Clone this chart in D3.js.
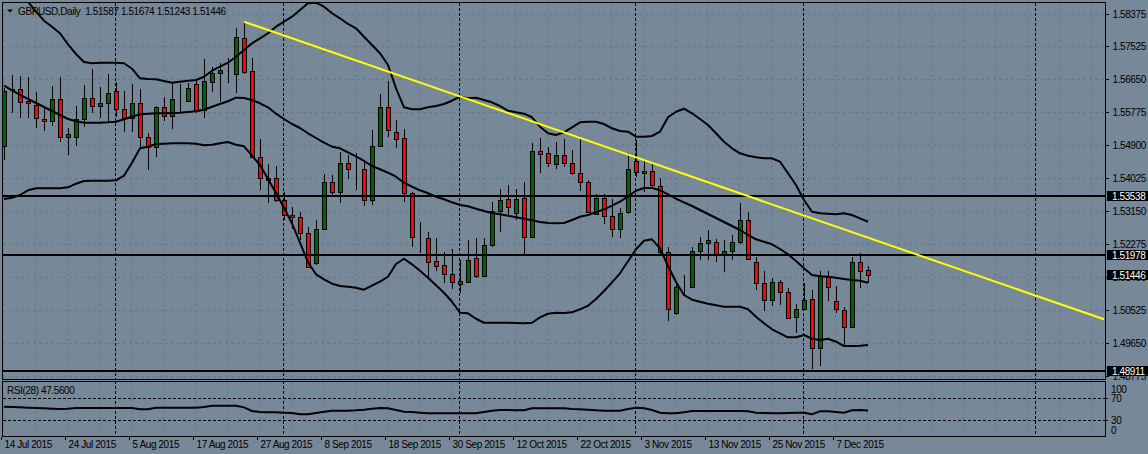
<!DOCTYPE html>
<html><head><meta charset="utf-8">
<script src="https://cdn.jsdelivr.net/npm/d3@7"></script>
<style>
html,body{margin:0;padding:0;background:#778899;}
svg{display:block;}
text{font-family:"Liberation Sans",Arial,sans-serif;font-size:10px;letter-spacing:-0.4px;fill:#000;}
</style></head><body>
<svg id="c" width="1148" height="454"></svg>
<script>
// ---------- data (GBPUSD Daily, bars from 14 Jul 2015 to 11 Dec 2015) ----------
const openP=[1.54864,1.56361,1.56367,1.56064,1.55943,1.55580,1.55519,1.56110,1.55095,1.55110,
1.55572,1.56128,1.55932,1.55996,1.56322,1.55837,1.55598,1.55996,1.55110,1.54830,
1.55905,1.55667,1.56083,1.56064,1.56499,1.55818,1.56568,1.56791,1.56878,1.56772,
1.57718,1.56852,1.54580,1.54008,1.54029,1.53420,1.53028,1.52975,1.52551,1.51756,
1.52678,1.53918,1.53653,1.54406,1.54255,1.54247,1.53433,1.54872,1.55890,1.55243,
1.55068,1.53611,1.52445,1.52418,1.51809,1.51703,1.51464,1.51199,1.51268,1.51888,
1.51427,1.52233,1.53149,1.53452,1.53081,1.53478,1.52445,1.54739,1.54671,1.54387,
1.54618,1.54421,1.54141,1.53918,1.53062,1.53478,1.53017,1.52657,1.53107,1.54474,
1.54141,1.54194,1.53817,1.52063,1.50446,1.51135,1.51135,1.52089,1.52286,1.52312,
1.52002,1.52089,1.52328,1.52903,1.51798,1.51226,1.50783,1.51268,1.50987,1.50325,
1.50537,1.50802,1.49503,1.51419,1.50764,1.50518,1.50060,1.51782,1.51587];
const highP=[1.56401,1.56746,1.56719,1.56700,1.56303,1.55905,1.56454,1.56685,1.55333,1.55924,
1.56481,1.56905,1.56420,1.56772,1.56568,1.56329,1.56499,1.56367,1.55208,1.55924,
1.56155,1.56526,1.56499,1.56526,1.56613,1.57162,1.56965,1.57056,1.57188,1.57983,
1.58158,1.57188,1.55050,1.54387,1.54334,1.53632,1.53255,1.53123,1.52725,1.52903,
1.54122,1.54096,1.54713,1.54626,1.54686,1.54493,1.55288,1.56242,1.56594,1.55553,
1.55307,1.53653,1.52858,1.52593,1.52418,1.52047,1.52127,1.51843,1.52373,1.52418,
1.52434,1.53388,1.53717,1.53831,1.53717,1.53918,1.54936,1.55068,1.54845,1.54962,
1.55042,1.54758,1.55095,1.53963,1.53592,1.53584,1.53452,1.53213,1.54671,1.55015,
1.54493,1.54440,1.54008,1.52180,1.51268,1.51438,1.52195,1.52445,1.52638,1.52392,
1.52373,1.52506,1.53346,1.53123,1.51930,1.51559,1.51358,1.51313,1.51093,1.50677,
1.51226,1.51048,1.51559,1.51559,1.51154,1.50605,1.51930,1.52021,1.51674];
const lowP=[1.54493,1.55739,1.55598,1.55598,1.55333,1.55269,1.55394,1.54978,1.54626,1.54872,
1.55375,1.55731,1.55598,1.55508,1.55640,1.55243,1.55243,1.54845,1.54228,1.54580,
1.55534,1.55315,1.55731,1.56057,1.55731,1.55598,1.56303,1.56038,1.56526,1.56276,
1.56772,1.54538,1.53698,1.53346,1.53388,1.52903,1.52678,1.52373,1.51623,1.51711,
1.52638,1.53513,1.53361,1.53990,1.53698,1.53274,1.53301,1.54845,1.55110,1.54803,
1.53388,1.52195,1.52021,1.51358,1.51559,1.51226,1.51067,1.50976,1.51241,1.51358,
1.51400,1.52195,1.52593,1.53017,1.52903,1.52002,1.52418,1.54141,1.54315,1.54247,
1.54315,1.54096,1.53679,1.53089,1.53036,1.52797,1.52460,1.52418,1.53062,1.54043,
1.53645,1.53778,1.52002,1.50234,1.50386,1.50889,1.51120,1.51843,1.51843,1.51798,
1.51533,1.51843,1.52259,1.51843,1.51048,1.50499,1.50624,1.50651,1.50272,1.49916,
1.50518,1.48947,1.49034,1.50764,1.50431,1.49591,1.50033,1.51093,1.51243];
const closeP=[1.56329,1.56375,1.56038,1.55996,1.55598,1.55519,1.56110,1.55095,1.55174,1.55572,
1.56128,1.55932,1.55996,1.56261,1.55837,1.55598,1.55996,1.55110,1.54830,1.55890,
1.55667,1.56102,1.56083,1.56393,1.55799,1.56587,1.56791,1.56878,1.56878,1.57745,
1.56833,1.54580,1.54008,1.53950,1.53433,1.53028,1.52975,1.52551,1.51671,1.52678,
1.53918,1.53653,1.54406,1.54247,1.54255,1.53433,1.54872,1.55890,1.55288,1.55042,
1.53611,1.52445,1.52445,1.51790,1.51692,1.51464,1.51252,1.51287,1.51843,1.51427,
1.52233,1.53149,1.53433,1.53255,1.53452,1.52445,1.54739,1.54652,1.54406,1.54626,
1.54406,1.54141,1.53918,1.53123,1.53478,1.53017,1.52657,1.53096,1.54247,1.54167,
1.54194,1.53823,1.52063,1.50537,1.51120,1.51135,1.52089,1.52286,1.52373,1.52002,
1.52089,1.52328,1.52903,1.51862,1.51226,1.50783,1.51268,1.50987,1.50298,1.50537,
1.50783,1.49503,1.51419,1.51120,1.50537,1.50060,1.51782,1.51559,1.51446];
// Bollinger bands
const bandUpper=[1.59316,1.59104,1.58892,1.58688,1.58423,1.58184,1.58025,1.57851,1.57559,1.57302,
1.57090,1.57056,1.57071,1.57071,1.57071,1.57056,1.56912,1.56658,1.56640,1.56632,
1.56587,1.56541,1.56568,1.56594,1.56613,1.56700,1.56859,1.56965,1.57071,1.57230,
1.57408,1.57586,1.57718,1.57851,1.58025,1.58158,1.58290,1.58468,1.58646,1.58661,
1.58555,1.58381,1.58248,1.58097,1.57983,1.57760,1.57541,1.57321,1.57011,1.56393,
1.55890,1.55837,1.55837,1.55890,1.55924,1.55977,1.56064,1.56170,1.56128,1.56144,
1.56083,1.56022,1.55924,1.55799,1.55757,1.55720,1.55625,1.55375,1.55201,1.55156,
1.55227,1.55360,1.55492,1.55508,1.55508,1.55447,1.55333,1.55262,1.55243,1.55110,
1.55110,1.55129,1.55243,1.55625,1.55773,1.55852,1.55731,1.55580,1.55421,1.55201,
1.54978,1.54803,1.54671,1.54607,1.54565,1.54538,1.54538,1.54448,1.54141,1.53831,
1.53433,1.53123,1.53081,1.53070,1.53054,1.53081,1.53036,1.52948,1.52858];
const bandMiddle=[1.56462,1.56340,1.56216,1.56110,1.56004,1.55898,1.55792,1.55686,1.55580,1.55519,
1.55481,1.55481,1.55481,1.55492,1.55508,1.55572,1.55640,1.55704,1.55720,1.55731,
1.55731,1.55739,1.55746,1.55765,1.55784,1.55826,1.55905,1.55977,1.56049,1.56144,
1.56136,1.56083,1.55996,1.55890,1.55720,1.55580,1.55447,1.55341,1.55201,1.55076,
1.54951,1.54845,1.54803,1.54697,1.54591,1.54467,1.54334,1.54247,1.54156,1.54050,
1.53891,1.53785,1.53690,1.53611,1.53520,1.53452,1.53372,1.53301,1.53266,1.53202,
1.53142,1.53089,1.53054,1.53017,1.52975,1.52937,1.52895,1.52850,1.52824,1.52816,
1.52824,1.52903,1.52990,1.53036,1.53107,1.53187,1.53282,1.53388,1.53531,1.53679,
1.53751,1.53751,1.53690,1.53584,1.53467,1.53372,1.53274,1.53168,1.53062,1.52956,
1.52850,1.52744,1.52638,1.52506,1.52392,1.52328,1.52259,1.52135,1.51994,1.51817,
1.51623,1.51446,1.51411,1.51400,1.51374,1.51340,1.51313,1.51294,1.51241];
const bandLower=[1.53460,1.53494,1.53566,1.53690,1.53743,1.53743,1.53743,1.53743,1.53770,1.53865,
1.53937,1.53944,1.53944,1.53944,1.53955,1.54077,1.54421,1.54803,1.54845,1.54917,
1.54925,1.54936,1.54936,1.54936,1.54925,1.54883,1.54899,1.54936,1.54970,1.54899,
1.54856,1.54607,1.54361,1.53990,1.53619,1.53229,1.52816,1.52301,1.51782,1.51464,
1.51332,1.51215,1.51154,1.51135,1.51109,1.51056,1.51162,1.51268,1.51400,1.51737,
1.51877,1.51729,1.51559,1.51374,1.51173,1.50976,1.50738,1.50446,1.50431,1.50287,
1.50181,1.50181,1.50181,1.50181,1.50174,1.50166,1.50181,1.50325,1.50420,1.50446,
1.50439,1.50457,1.50537,1.50632,1.50810,1.51022,1.51252,1.51491,1.51809,1.52127,
1.52354,1.52392,1.52153,1.51684,1.51260,1.50916,1.50791,1.50738,1.50685,1.50643,
1.50605,1.50605,1.50605,1.50537,1.50340,1.50166,1.50007,1.49901,1.49795,1.49795,
1.49856,1.49757,1.49723,1.49757,1.49678,1.49564,1.49564,1.49572,1.49591];
// RSI(28)
const rsiValues=[54.6,54.0,53.4,52.8,52.2,51.6,50.9,50.3,50.9,52.2,
52.2,52.2,52.2,52.2,52.2,52.2,52.2,49.7,49.7,52.8,
52.8,52.8,52.8,52.8,52.8,54.0,56.5,56.5,56.5,56.5,
53.4,46.6,44.8,44.2,44.2,43.6,42.9,40.5,40.5,42.9,
45.4,47.2,47.2,47.2,47.9,49.1,50.9,52.2,51.6,48.5,
45.4,44.8,43.6,42.3,42.3,42.3,42.3,42.3,42.3,42.3,
44.8,47.2,48.5,48.5,47.9,47.9,51.6,51.6,51.6,51.6,
51.6,50.3,49.7,49.1,47.9,47.2,47.2,47.2,50.3,52.8,
51.6,48.5,43.6,42.3,42.3,44.2,46.6,46.6,46.6,46.6,
46.6,46.6,46.6,46.0,43.6,42.9,42.3,42.3,42.9,43.6,
43.6,40.5,46.0,46.0,44.8,43.6,47.9,48.5,47.56];
const rsiLevels=[70,30];
const rsiAxisLabels=[100,70,30,0];
// axis labels
const priceTicks=[1.58375,1.57525,1.56650,1.55775,1.54900,1.54025,1.53150,1.52275,1.51400,1.50525,1.49650,1.48775];
const dateLabels=["14 Jul 2015","24 Jul 2015","5 Aug 2015","17 Aug 2015","27 Aug 2015","8 Sep 2015","18 Sep 2015","30 Sep 2015","12 Oct 2015","22 Oct 2015","3 Nov 2015","13 Nov 2015","25 Nov 2015","7 Dec 2015"];
const dateBars=[0,8,16,24,32,40,48,56,64,72,80,88,96,104];
const monthStartBars=[14,35,57,79,100,129];
const hLevels=[1.53538,1.51978,1.48911];
const currentPrice=1.51446;
const trendPoints=[{bar:30,price:1.58158},{bar:137.5,price:1.50272}];
const titleText="GBPUSD,Daily  1.51587 1.51674 1.51243 1.51446";
const rsiTitle="RSI(28) 47.5600";

// ---------- layout ----------
const W=1148,H=454;
const L=3,R=1105,T=3,B=379,RT=381,RB=436;
const BG="#778899",GRID="#66778a",BULL="#006400",BEAR="#ff0000";
const svg=d3.select('#c').attr('shape-rendering','crispEdges');
svg.append('rect').attr('width',W).attr('height',H).attr('fill',BG);

const nBars=closeP.length;
const x=d3.scaleLinear().domain([0,137.5]).range([4,1104]);
const y=d3.scaleLinear().domain([1.48775,1.58375]).range([375.8,13.5]);
const yR=d3.scaleLinear().domain([0,100]).range([436.3,382.05]);
const idx=d3.range(nBars);

const defs=svg.append('defs');
defs.append('clipPath').attr('id','cm').append('rect').attr('x',L).attr('y',T).attr('width',R-L).attr('height',B-T);
defs.append('clipPath').attr('id','cr').append('rect').attr('x',L).attr('y',RT).attr('width',R-L).attr('height',RB-RT);

const main=svg.append('g').attr('clip-path','url(#cm)');
const rsiG=svg.append('g').attr('clip-path','url(#cr)');

// grid
const gridBars=d3.range(0,138,4);
[main,rsiG].forEach((g,k)=>{
  g.selectAll('line.vg').data(gridBars).join('line')
   .attr('x1',d=>Math.round(x(d))-0.5).attr('x2',d=>Math.round(x(d))-0.5)
   .attr('y1',k?RT:T).attr('y2',k?RB:B)
   .attr('stroke',GRID).attr('stroke-dasharray','3,3');
});
main.selectAll('line.hg').data(priceTicks).join('line')
  .attr('x1',L).attr('x2',R).attr('y1',d=>Math.round(y(d))+0.5).attr('y2',d=>Math.round(y(d))+0.5)
  .attr('stroke',GRID).attr('stroke-dasharray','3,3');
// month separators
[main,rsiG].forEach((g,k)=>{
  g.selectAll('line.sep').data(monthStartBars).join('line')
   .attr('x1',d=>Math.round(x(d))-0.5).attr('x2',d=>Math.round(x(d))-0.5)
   .attr('y1',k?RT:T).attr('y2',k?RB:B)
   .attr('stroke','#000').attr('stroke-dasharray','3,2');
});

// candles
const cg=main.append('g');
cg.selectAll('line.wick').data(idx).join('line')
  .attr('x1',i=>x(i)+0.5).attr('x2',i=>x(i)+0.5)
  .attr('y1',i=>y(highP[i])).attr('y2',i=>y(lowP[i]))
  .attr('stroke','#000').attr('stroke-width',1);
cg.selectAll('rect.body').data(idx).join('rect')
  .attr('x',i=>x(i)-1.5).attr('width',4)
  .attr('y',i=>Math.round(y(Math.max(openP[i],closeP[i])))+0.5)
  .attr('height',i=>Math.max(0,Math.round(y(Math.min(openP[i],closeP[i])))-Math.round(y(Math.max(openP[i],closeP[i])))))
  .attr('fill',i=>closeP[i]>openP[i]?BULL:(closeP[i]<openP[i]?BEAR:'#000'))
  .attr('stroke','#000').attr('stroke-width',1);

// bands
const lineGen=arr=>d3.line().x(i=>x(i)).y(i=>y(arr[i])).curve(d3.curveLinear)(idx);
[bandUpper,bandMiddle,bandLower].forEach(arr=>{
  main.append('path').attr('d',lineGen(arr)).attr('fill','none').attr('stroke','#000').attr('stroke-width',2)
    .attr('shape-rendering','auto').attr('stroke-linejoin','round');
});
// horizontal levels
main.selectAll('line.lvl').data(hLevels).join('line')
  .attr('x1',L).attr('x2',R).attr('y1',d=>Math.round(y(d))).attr('y2',d=>Math.round(y(d)))
  .attr('stroke','#000').attr('stroke-width',2);
// trend line
main.append('line')
  .attr('x1',x(trendPoints[0].bar)).attr('y1',y(trendPoints[0].price))
  .attr('x2',x(trendPoints[1].bar)).attr('y2',y(trendPoints[1].price))
  .attr('stroke','#ffff00').attr('stroke-width',2).attr('shape-rendering','auto');

// RSI
rsiG.selectAll('line.rl').data(rsiLevels).join('line')
  .attr('x1',L).attr('x2',R).attr('y1',d=>Math.round(yR(d))+0.5).attr('y2',d=>Math.round(yR(d))+0.5)
  .attr('stroke','#000').attr('stroke-dasharray','3,2');
rsiG.append('path').attr('d',d3.line().x(i=>x(i)).y(i=>yR(rsiValues[i]))(idx))
  .attr('fill','none').attr('stroke','#000').attr('stroke-width',2).attr('shape-rendering','auto');

// frames
const fr=svg.append('g').attr('fill','none').attr('stroke','#000').attr('stroke-width',1);
fr.append('rect').attr('x',L-0.5).attr('y',T-0.5).attr('width',R-L+1).attr('height',B-T+1);
fr.append('rect').attr('x',L-0.5).attr('y',RT+0.5).attr('width',R-L+1).attr('height',RB-RT);

// price axis
const pa=svg.append('g').attr('transform',`translate(${R+0.5},0)`)
  .call(d3.axisRight(y).tickValues(priceTicks).tickSize(3).tickPadding(4).tickFormat(d=>d.toFixed(5)));
pa.select('.domain').remove();
pa.selectAll('text').attr('font-size',null).attr('font-family',null).attr('dy','0.35em').attr('fill','#000');
pa.selectAll('line').attr('stroke','#000');

// RSI axis
const ra=svg.append('g');
ra.selectAll('line').data(rsiLevels).join('line')
  .attr('x1',R).attr('x2',R+3).attr('y1',d=>Math.round(yR(d))+0.5).attr('y2',d=>Math.round(yR(d))+0.5).attr('stroke','#000');
ra.selectAll('text').data(rsiAxisLabels).join('text')
  .attr('x',R+6).attr('y',d=>Math.min(RB-6,Math.max(RT+8,yR(d)))).attr('dy','0.35em').text(d=>d);

// date axis
const da=svg.append('g').attr('transform',`translate(0,${RB+0.5})`)
  .call(d3.axisBottom(x).tickValues(dateBars).tickSize(3).tickFormat((d,i)=>dateLabels[i]));
da.select('.domain').remove();
da.selectAll('.tick line').attr('x1',-3).attr('x2',-3).attr('stroke','#000');
da.selectAll('text').attr('font-size',null).attr('font-family',null).attr('text-anchor','start')
  .attr('x',0).attr('y',11.5).attr('dy',0).attr('fill','#000');

// price markers
const markers=hLevels.concat([currentPrice]);
const mk=svg.append('g');
mk.selectAll('rect').data(markers).join('rect')
  .attr('x',R+2).attr('width',W-R-2).attr('y',d=>Math.round(y(d))-5).attr('height',10).attr('fill','#000');
mk.selectAll('text').data(markers).join('text')
  .attr('x',R+7).attr('y',d=>Math.round(y(d))).attr('dy','0.35em').style('fill','#fff').text(d=>d.toFixed(5));

// titles
svg.append('path').attr('d','M7,9.5 L13,9.5 L10,12.5 Z').attr('fill','#000').attr('shape-rendering','auto');
svg.append('text').attr('x',18).attr('y',15).text(titleText).attr('xml:space','preserve').style('white-space','pre');
svg.append('text').attr('x',7).attr('y',394).text(rsiTitle);
</script>
</body></html>
